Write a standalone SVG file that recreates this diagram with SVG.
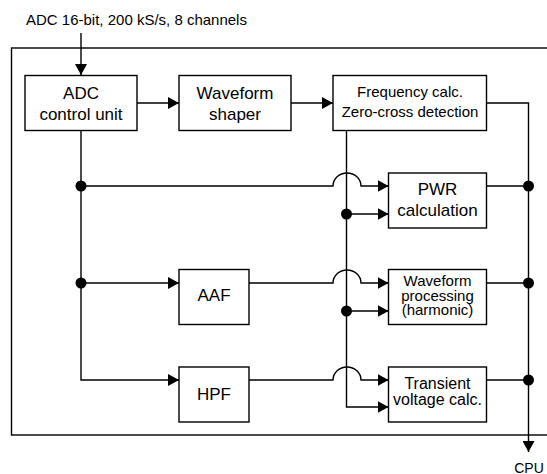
<svg xmlns="http://www.w3.org/2000/svg" width="547" height="474" viewBox="0 0 547 474">
<style>
.box{fill:#fff;stroke:#000;stroke-width:1.4}
.ln{fill:none;stroke:#000;stroke-width:1.4}
.t{font-family:"Liberation Sans",Arial,sans-serif;fill:#000;text-anchor:middle}
.big{font-size:17px}
.mid{font-size:15px}
</style>
<defs>
<marker id="ah" markerUnits="userSpaceOnUse" markerWidth="12" markerHeight="12" refX="11" refY="6" orient="auto">
<path d="M0,0 L11,6 L0,12 z" fill="#000"/>
</marker>
</defs>
<rect x="11.5" y="48" width="560" height="387" fill="none" stroke="#000" stroke-width="1.4"/>
<text class="t" x="26" y="25" style="font-size:15px;text-anchor:start">ADC 16-bit, 200 kS/s, 8 channels</text>
<text class="t" x="529" y="473" style="font-size:14px">CPU</text>
<g id="connectors">
<path class="ln" d="M81 33 V75" marker-end="url(#ah)"/>
<path class="ln" d="M137 103 H179" marker-end="url(#ah)"/>
<path class="ln" d="M291 103 H333" marker-end="url(#ah)"/>
<path class="ln" d="M486.5 103 H528.5 V452" marker-end="url(#ah)"/>
<path class="ln" d="M81 130.5 V380 H179" marker-end="url(#ah)"/>
<path class="ln" d="M81 186 H333 A14 13 0 0 1 361 186 H388.5" marker-end="url(#ah)"/>
<path class="ln" d="M346.5 130.5 V407 H388.5" marker-end="url(#ah)"/>
<path class="ln" d="M346.5 214 H388.5" marker-end="url(#ah)"/>
<path class="ln" d="M81 283 H179" marker-end="url(#ah)"/>
<path class="ln" d="M249 283 H333 A14 13 0 0 1 361 283 H388.5" marker-end="url(#ah)"/>
<path class="ln" d="M346.5 311 H388.5" marker-end="url(#ah)"/>
<path class="ln" d="M249 380 H333 A14 13 0 0 1 361 380 H388.5" marker-end="url(#ah)"/>
<path class="ln" d="M486.5 186 H528.5 M486.5 283 H528.5 M486.5 380 H528.5"/>
<circle cx="81" cy="186" r="5.5"/>
<circle cx="81" cy="283" r="5.5"/>
<circle cx="346.5" cy="214" r="5.5"/>
<circle cx="346.5" cy="311" r="5.5"/>
<circle cx="528.5" cy="186" r="5.5"/>
<circle cx="528.5" cy="283" r="5.5"/>
<circle cx="528.5" cy="380" r="5.5"/>
</g>
<g id="adc">
<rect class="box" x="25" y="75.5" width="112" height="55"/>
<text class="t big" x="81" y="99">ADC</text>
<text class="t big" x="81" y="120">control unit</text>
</g>
<g id="shaper">
<rect class="box" x="179" y="75.5" width="112" height="55"/>
<text class="t big" x="235" y="99">Waveform</text>
<text class="t big" x="235" y="120">shaper</text>
</g>
<g id="freq">
<rect class="box" x="333" y="75.5" width="153.5" height="55"/>
<text class="t" x="410" y="97" style="font-size:15px">Frequency calc.</text>
<text class="t" x="410" y="117" style="font-size:15px">Zero-cross detection</text>
</g>
<g id="pwr">
<rect class="box" x="388.5" y="173" width="98" height="55"/>
<text class="t big" x="437.5" y="195">PWR</text>
<text class="t big" x="437.5" y="216">calculation</text>
</g>
<g id="aaf">
<rect class="box" x="179" y="269.5" width="70" height="55"/>
<text class="t big" x="214" y="301">AAF</text>
</g>
<g id="wproc">
<rect class="box" x="388.5" y="269.5" width="98" height="55"/>
<text class="t mid" x="437.5" y="286">Waveform</text>
<text class="t mid" x="437.5" y="300.5">processing</text>
<text class="t mid" x="437.5" y="315">(harmonic)</text>
</g>
<g id="hpf">
<rect class="box" x="179" y="367" width="70" height="55"/>
<text class="t big" x="214" y="400">HPF</text>
</g>
<g id="transient">
<rect class="box" x="388.5" y="367" width="98" height="55"/>
<text class="t" x="437.5" y="389" style="font-size:16px">Transient</text>
<text class="t" x="437.5" y="405" style="font-size:16px">voltage calc.</text>
</g>
</svg>
